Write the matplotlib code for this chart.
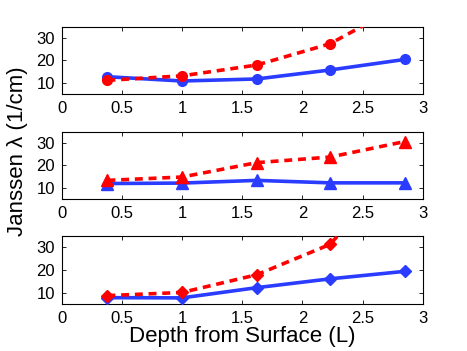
import numpy as np
from matplotlib import pyplot as plt

plt.rcParams['font.family'] = ['Liberation Sans', 'DejaVu Sans']

# depth positions (L)
depth = [0.38, 1.0, 1.62, 2.23, 2.85]

# Janssen lambda values, one pair of series per panel
top_blue = [12.7, 10.8, 11.7, 15.7, 20.4]
top_red = [11.1, 13.1, 17.9, 27.4, 45.5]
mid_blue = [11.9, 12.1, 13.3, 12.2, 12.2]
mid_red = [13.3, 14.8, 21.2, 23.7, 30.6]
bot_blue = [7.8, 7.7, 12.2, 16.1, 19.4]
bot_red = [8.7, 10.1, 17.9, 31.3, 68.0]

panels = [(top_blue, top_red, 'o'),
          (mid_blue, mid_red, '^'),
          (bot_blue, bot_red, 'D')]

blue = '#2a3cff'
red = '#ff0000'

W, H = 467, 351
fig = plt.figure(figsize=(W / 100, H / 100), dpi=100)

# (top, bottom) of each axes in pixels
boxes = [(26.7, 94.0), (131.7, 199.0), (236.0, 304.0)]
left, right = 61.7, 422.7

for (b, r, m), (t, bt) in zip(panels, boxes):
    ax = fig.add_axes([left / W, 1 - bt / H, (right - left) / W, (bt - t) / H])
    ms = 7 if m == 'o' else (8 if m == '^' else 6.5)
    ax.plot(depth, b, '-', color=blue, lw=2.6, marker=m, ms=ms,
            mec=blue, mfc=blue, zorder=3)
    ax.plot(depth, r, '--', color=red, lw=2.6, marker=m, ms=ms,
            mec=red, mfc=red, dashes=(2.2, 1.6), zorder=4)
    ax.set_xlim(0, 3)
    ax.set_ylim(5, 35)
    ax.set_xticks([0, 0.5, 1, 1.5, 2, 2.5, 3])
    ax.set_xticklabels(['0', '0.5', '1', '1.5', '2', '2.5', '3'])
    ax.set_yticks([10, 20, 30])
    ax.tick_params(direction='in', length=3, width=0.6, top=True,
                   right=True, labelsize=12, pad=5, colors='black')
    for s in ax.spines.values():
        s.set_linewidth(0.8)
    if m == 'D':
        ax.set_xlabel('Depth from Surface (L)', fontsize=16, labelpad=0)

fig.text(18 / W, 1 - 151 / H, 'Janssen λ (1/cm)', rotation=90,
         fontsize=16, ha='center', va='center')

fig.savefig('out.png', dpi=100)
